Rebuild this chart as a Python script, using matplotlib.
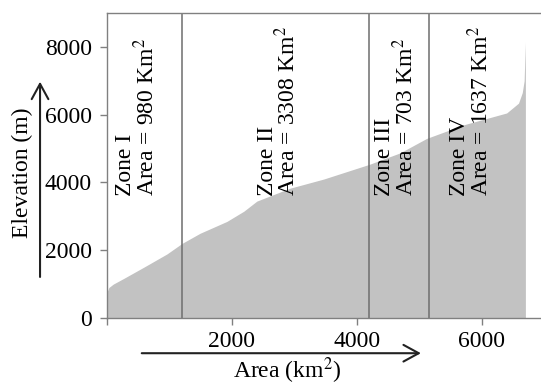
import matplotlib
matplotlib.use("Agg")
from matplotlib import pyplot as plt

plt.rcParams['font.family'] = ['Liberation Serif', 'DejaVu Serif']
plt.rcParams['mathtext.fontset'] = 'stix'

# hypsometric curve: cumulative area (km2) vs elevation (m)
area = [0, 30, 100, 270, 590, 960, 1200, 1490, 1920, 2190, 2400, 2930, 3470,
        4210, 4690, 5120, 5710, 6400, 6590, 6650, 6680, 6690, 6700]
elev = [760, 900, 1000, 1170, 1500, 1890, 2200, 2500, 2850, 3150, 3450, 3830,
        4100, 4540, 4870, 5300, 5700, 6050, 6340, 6650, 7000, 7600, 8130]

# zone boundaries and labels
bounds = [1200, 4200, 5150]
zone_names = ["Zone I", "Zone II", "Zone III", "Zone IV"]
zone_areas = [980, 3308, 703, 1637]
zone_xpos = [480, 2750, 4630, 5830]

fs = 17

fig = plt.figure(figsize=(5.41, 3.89), dpi=100)
ax = fig.add_axes([0.1978, 0.1825, 0.8022, 0.7841])

ax.fill_between(area, elev, 0, color='#c2c2c2', lw=0)
for b in bounds:
    ax.axvline(b, color='#6e6e6e', lw=1.1)

for name, a, xp in zip(zone_names, zone_areas, zone_xpos):
    ax.text(xp, 3600, name + "\nArea = " + str(a) + r" Km$^2$",
            rotation=90, ha='center', va='bottom', fontsize=fs,
            linespacing=0.85, multialignment='left')

ax.set_xlim(0, 6950)
ax.set_ylim(0, 9000)
ax.set_xticks([0, 2000, 4000, 6000])
ax.set_xticklabels(['', '2000', '4000', '6000'])
ax.set_yticks([0, 2000, 4000, 6000, 8000])

ax.spines['right'].set_visible(False)
for s in ['left', 'bottom', 'top']:
    ax.spines[s].set_color('#808080')
    ax.spines[s].set_linewidth(1.0)
ax.tick_params(colors='#808080', labelcolor='black', labelsize=fs,
               length=5, width=1)
ax.tick_params(axis='y', pad=6)
ax.tick_params(axis='x', pad=4)

# axis titles with arrows
fig.text(0.041, 0.555, "Elevation (m)", rotation=90, ha='center',
         va='center', fontsize=fs)
fig.text(0.5305, 0.046, r"Area (km$^2$)", ha='center', va='center',
         fontsize=fs)
ax.annotate('', xy=(0.074, 0.79), xytext=(0.074, 0.288),
            xycoords='figure fraction', textcoords='figure fraction',
            arrowprops=dict(arrowstyle='->,head_length=0.55,head_width=0.3',
                            lw=1.5, color='#222222', mutation_scale=20,
                            shrinkA=0, shrinkB=0))
ax.annotate('', xy=(0.778, 0.092), xytext=(0.262, 0.092),
            xycoords='figure fraction', textcoords='figure fraction',
            arrowprops=dict(arrowstyle='->,head_length=0.55,head_width=0.3',
                            lw=1.5, color='#222222', mutation_scale=20,
                            shrinkA=0, shrinkB=0))

fig.savefig('out.png', dpi=100)
